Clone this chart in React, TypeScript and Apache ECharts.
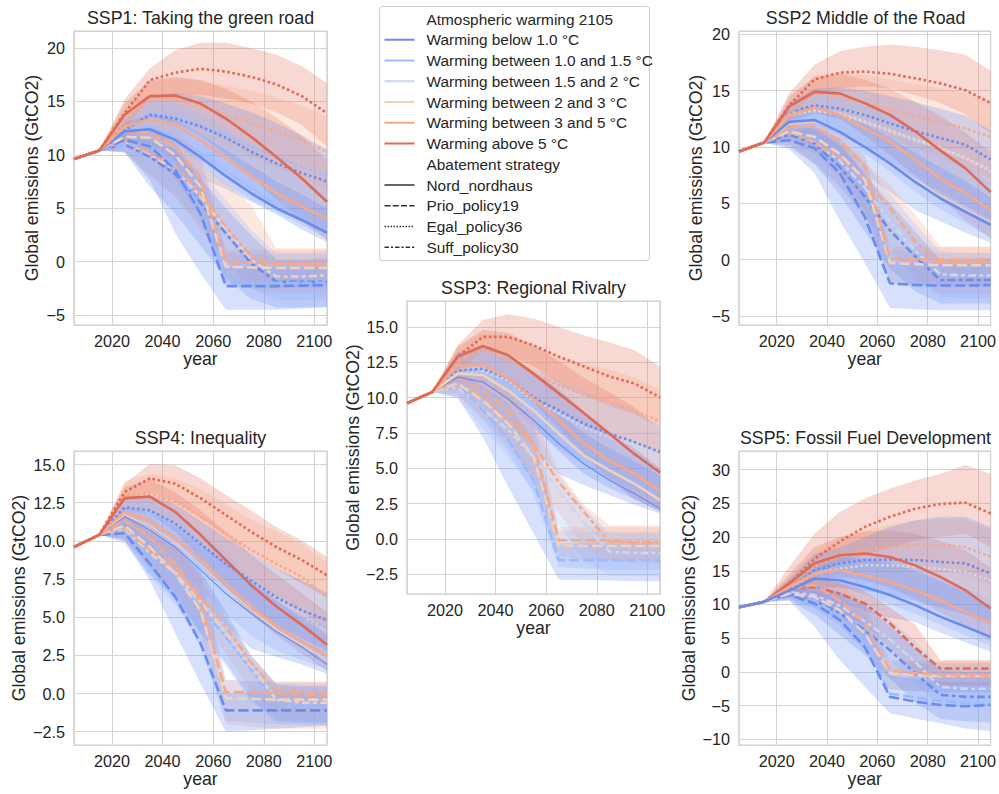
import React, { useEffect, useRef } from 'react';
import * as echarts from 'echarts';

// ---------- data ----------
const YEARS = [2005, 2015, 2025, 2035, 2045, 2055, 2065, 2075, 2085, 2095, 2105];
const HISTORY = [9.6, 10.4];
const X_TICKS = [2020, 2040, 2060, 2080, 2100];

const WARMING_LABELS = [
  'Warming below 1.0 °C',
  'Warming between 1.0 and 1.5 °C',
  'Warming between 1.5 and 2 °C',
  'Warming between 2 and 3 °C',
  'Warming between 3 and 5 °C',
  'Warming above 5 °C',
];
const STRATEGY_LABELS = ['Nord_nordhaus', 'Prio_policy19', 'Egal_policy36', 'Suff_policy30'];
const STRATEGY_CODES = ['N', 'P', 'E', 'S'];
const PANEL_TITLES = [
  'SSP1: Taking the green road',
  'SSP2 Middle of the Road',
  'SSP3: Regional Rivalry',
  'SSP4: Inequality',
  'SSP5: Fossil Fuel Development',
];
const Y_EXTENTS = [[-5.94, 21.6], [-5.8, 20.3], [-3.9, 16.84], [-3.37, 15.89], [-10.84, 32.76]];
const Y_STEPS = [5, 5, 2.5, 2.5, 5];

type Line = [number, string, number[]];
type Band = [number, number[], number[]];

// values for 2025..2105 ; [warming class, strategy, values]
const SSP1_LINES: Line[] = [
  [3, 'S', [11.1, 10.0, 8.6, 6.1, 3.0, 0.15, -1.4, -1.4, -1.3]],
  [0, 'S', [11.0, 9.8, 8.2, 5.5, 2.65, -0.15, -1.9, -1.9, -1.9]],
  [4, 'S', [11.4, 10.2, 8.9, 6.4, 3.3, 0.5, -0.3, -0.3, -0.4]],
  [1, 'P', [11.0, 10.9, 9.0, 5.0, -2.0, -2.0, -2.0, -2.0, -2.0]],
  [0, 'P', [11.4, 10.8, 8.6, 4.5, -2.3, -2.3, -2.3, -2.25, -2.2]],
  [3, 'P', [11.7, 11.6, 10.0, 7.0, -0.5, -0.55, -0.6, -0.6, -0.6]],
  [4, 'P', [12.2, 12.1, 10.8, 7.65, 0.0, -0.1, -0.15, -0.15, -0.15]],
  [1, 'E', [12.5, 13.9, 13.6, 12.8, 11.9, 10.8, 9.8, 8.9, 8.0]],
  [0, 'E', [12.3, 13.75, 13.4, 12.65, 11.6, 10.3, 9.2, 8.3, 7.5]],
  [4, 'E', [13.0, 15.3, 15.2, 14.5, 13.75, 13.0, 12.2, 11.4, 10.3]],
  [5, 'E', [13.9, 17.0, 17.7, 18.06, 17.8, 17.3, 16.6, 15.5, 13.9]],
  [1, 'N', [12.3, 12.6, 11.7, 10.2, 8.5, 6.9, 5.4, 4.2, 3.0]],
  [0, 'N', [12.2, 12.4, 11.4, 9.8, 8.0, 6.4, 5.0, 3.9, 2.7]],
  [4, 'N', [12.65, 13.3, 12.8, 11.4, 9.7, 8.0, 6.4, 5.2, 4.0]],
  [5, 'N', [13.75, 15.5, 15.55, 14.8, 13.4, 11.7, 9.8, 7.8, 5.6]],
];
const SSP1_BANDS: Band[] = [
  [5, [12.5, 15.3, 15.6, 15.6, 15.3, 14.8, 14.0, 12.8, 10.8], [15.2, 18.1, 19.8, 20.5, 20.5, 20.0, 19.4, 18.3, 16.7]],
  [5, [12.5, 13.5, 13.0, 11.8, 10.0, 8.0, 5.8, 3.8, 2.0], [14.8, 17.0, 17.3, 17.0, 16.2, 15.0, 13.5, 11.8, 9.5]],
  [4, [12.0, 13.6, 13.0, 12.0, 10.8, 9.8, 8.8, 7.8, 6.6], [14.0, 16.8, 17.2, 16.9, 16.5, 16.0, 15.4, 14.6, 13.6]],
  [0, [11.5, 12.0, 11.0, 9.5, 8.0, 6.5, 5.0, 3.8, 2.6], [13.2, 15.5, 15.8, 15.5, 14.8, 14.0, 13.0, 11.8, 10.5]],
  [1, [11.8, 11.8, 10.8, 9.0, 7.2, 5.8, 4.6, 3.4, 2.2], [13.6, 14.8, 14.8, 13.8, 12.4, 10.8, 9.2, 7.8, 6.4]],
  [0, [11.3, 11.0, 9.5, 7.8, 6.8, 5.6, 4.4, 3.0, 1.8], [13.0, 13.8, 13.3, 12.0, 10.5, 9.0, 7.5, 6.3, 5.0]],
  [4, [11.2, 10.0, 8.0, 4.5, -2.0, -2.2, -2.3, -2.3, -2.3], [13.0, 13.5, 12.5, 10.0, 1.1, 1.1, 1.1, 1.1, 1.1]],
  [1, [10.9, 10.0, 7.8, 4.0, -2.3, -2.4, -2.5, -2.5, -2.5], [12.4, 12.9, 12.0, 9.6, 0.8, 0.7, 0.7, 0.7, 0.7]],
  [0, [10.3, 7.65, 2.65, -1.1, -4.5, -4.5, -4.5, -4.4, -4.3], [12.2, 12.5, 11.0, 8.0, -0.5, -0.6, -0.6, -0.6, -0.5]],
  [4, [10.3, 8.0, 6.0, 3.0, 0.0, -2.5, -3.0, -3.0, -3.0], [12.5, 12.2, 11.0, 9.0, 7.4, 5.3, 1.25, 1.25, 1.25]],
  [1, [10.3, 8.2, 6.2, 3.4, 0.2, -2.5, -3.6, -3.6, -3.5], [11.9, 11.6, 10.6, 8.4, 5.8, 3.0, 0.8, 0.8, 0.9]],
  [0, [10.2, 7.0, 4.5, 1.5, -1.5, -3.5, -4.3, -4.3, -4.2], [12.0, 11.5, 10.5, 7.8, 5.0, 2.5, 0.2, 0.2, 0.3]],
];

const SSP2_LINES: Line[] = [
  [2, 'S', [11.2, 10.4, 8.8, 6.4, 3.4, 0.8, -1.3, -1.4, -1.4]],
  [0, 'S', [11.1, 10.3, 8.25, 5.6, 2.6, 0.3, -1.8, -1.8, -1.8]],
  [4, 'S', [11.4, 10.3, 9.1, 7.1, 4.6, 1.6, -0.3, -0.3, -0.3]],
  [0, 'P', [10.6, 9.9, 7.7, 3.8, -2.1, -2.25, -2.3, -2.3, -2.25]],
  [3, 'P', [11.4, 10.9, 9.4, 7.1, -0.3, -0.4, -0.5, -0.5, -0.5]],
  [4, 'P', [11.8, 11.8, 10.6, 8.25, 0.1, 0.0, 0.0, 0.0, 0.0]],
  [2, 'E', [12.8, 13.2, 12.9, 12.2, 11.4, 10.6, 9.9, 9.1, 8.0]],
  [3, 'E', [12.9, 13.3, 13.0, 12.3, 11.5, 10.7, 9.9, 9.0, 7.8]],
  [0, 'E', [13.1, 13.7, 13.4, 12.85, 12.1, 11.4, 10.8, 10.2, 8.9]],
  [4, 'E', [13.0, 14.7, 14.5, 13.9, 13.3, 12.7, 12.25, 11.65, 10.9]],
  [5, 'E', [13.7, 16.0, 16.6, 16.7, 16.5, 16.1, 15.65, 15.05, 13.9]],
  [3, 'N', [12.0, 12.2, 11.3, 10.0, 8.7, 7.1, 5.7, 4.5, 3.3]],
  [0, 'N', [12.25, 12.4, 11.35, 10.0, 8.55, 6.9, 5.45, 4.25, 3.1]],
  [4, 'N', [12.8, 13.5, 12.85, 11.65, 10.5, 8.85, 7.2, 5.9, 4.4]],
  [5, 'N', [13.6, 14.9, 14.76, 13.9, 12.85, 11.4, 9.7, 8.1, 6.0]],
];
const SSP2_BANDS: Band[] = [
  [5, [12.6, 14.8, 15.2, 15.4, 15.2, 14.6, 13.9, 12.9, 11.2], [14.8, 17.3, 18.5, 18.9, 19.1, 18.9, 18.6, 18.2, 16.8]],
  [5, [12.4, 13.0, 12.5, 11.0, 9.3, 7.5, 5.5, 3.5, 1.9], [14.5, 16.2, 16.5, 16.0, 15.2, 14.0, 12.8, 11.3, 9.6]],
  [4, [12.0, 13.0, 12.6, 11.6, 10.8, 9.9, 9.0, 8.2, 7.2], [14.0, 16.4, 16.6, 16.4, 16.0, 15.6, 15.2, 14.8, 14.2]],
  [0, [11.8, 12.0, 11.2, 10.0, 8.6, 7.2, 6.0, 4.8, 3.5], [14.0, 15.2, 15.3, 15.0, 14.5, 14.0, 13.4, 12.8, 11.5]],
  [1, [11.9, 12.0, 11.0, 9.4, 7.8, 6.0, 4.5, 3.2, 2.0], [13.7, 15.0, 14.8, 13.8, 12.8, 11.4, 9.8, 8.4, 6.8]],
  [0, [11.2, 10.8, 9.4, 7.6, 6.0, 4.4, 3.4, 2.4, 1.5], [13.0, 13.7, 13.0, 12.0, 10.8, 9.5, 8.2, 7.0, 5.5]],
  [4, [10.8, 10.0, 8.0, 4.5, -2.0, -2.2, -2.3, -2.3, -2.3], [12.6, 12.1, 11.2, 9.1, 1.15, 1.15, 1.15, 1.15, 1.15]],
  [1, [10.6, 9.4, 7.4, 4.3, -2.2, -2.3, -2.4, -2.4, -2.4], [12.2, 12.3, 11.2, 9.4, 0.8, 0.7, 0.6, 0.6, 0.6]],
  [0, [9.8, 7.7, 3.5, -0.3, -4.3, -4.4, -4.5, -4.5, -4.5], [11.4, 11.8, 10.5, 7.5, -0.2, -0.3, -0.4, -0.4, -0.3]],
  [4, [10.2, 8.5, 6.5, 3.8, 1.2, -1.6, -3.0, -3.0, -3.0], [12.3, 11.8, 10.8, 8.6, 6.6, 4.0, 1.15, 1.15, 1.15]],
  [1, [10.4, 8.6, 6.6, 3.8, 0.6, -1.8, -3.3, -3.4, -3.4], [12.0, 12.0, 10.8, 8.6, 5.8, 3.2, 0.7, 0.6, 0.6]],
  [0, [10.0, 8.5, 5.8, 2.5, -0.8, -2.8, -3.9, -3.9, -3.9], [12.0, 11.6, 10.2, 7.6, 5.0, 2.5, 0.0, 0.0, 0.1]],
];

const SSP3_LINES: Line[] = [
  [2, 'S', [10.75, 9.2, 7.7, 5.8, 3.4, 1.1, -0.9, -1.0, -1.0]],
  [4, 'S', [11.0, 10.0, 8.4, 6.75, 4.0, 1.9, -0.2, -0.2, -0.2]],
  [1, 'P', [11.0, 9.1, 7.0, 4.15, -1.5, -1.5, -1.5, -1.5, -1.5]],
  [3, 'P', [11.0, 9.8, 8.15, 5.8, -0.45, -0.5, -0.5, -0.5, -0.5]],
  [4, 'P', [11.45, 10.5, 9.1, 6.75, -0.1, -0.1, -0.1, -0.3, -0.3]],
  [2, 'E', [11.8, 11.9, 11.2, 9.8, 8.9, 7.9, 7.2, 6.6, 5.8]],
  [0, 'E', [11.9, 12.05, 11.35, 10.0, 9.1, 8.15, 7.45, 6.85, 6.15]],
  [4, 'E', [12.5, 13.35, 12.65, 11.7, 10.9, 10.2, 9.7, 9.1, 8.3]],
  [5, 'E', [12.9, 14.3, 14.3, 13.7, 12.9, 12.2, 11.5, 11.0, 10.0]],
  [0, 'N', [11.45, 11.1, 9.9, 8.4, 6.75, 5.3, 4.15, 3.2, 2.15]],
  [3, 'N', [11.7, 11.6, 10.5, 9.1, 7.45, 5.9, 4.85, 3.9, 2.75]],
  [4, 'N', [12.3, 12.3, 11.35, 9.9, 8.4, 6.75, 5.55, 4.6, 3.4]],
  [5, 'N', [12.9, 13.65, 13.0, 11.7, 10.3, 8.9, 7.45, 6.0, 4.7]],
];
const SSP3_BANDS: Band[] = [
  [5, [12.0, 13.3, 13.0, 12.2, 11.0, 10.2, 9.4, 8.8, 7.9], [13.7, 15.5, 15.9, 15.6, 15.0, 14.4, 13.9, 13.35, 12.2]],
  [5, [12.0, 12.3, 11.3, 9.6, 7.8, 6.0, 4.2, 2.8, 1.9], [13.6, 14.8, 14.6, 13.7, 12.6, 11.4, 10.4, 9.3, 7.8]],
  [4, [11.6, 12.0, 11.0, 9.8, 8.9, 8.0, 7.4, 6.8, 6.0], [13.4, 14.6, 14.3, 13.6, 12.9, 12.4, 12.0, 11.4, 10.6]],
  [1, [11.0, 10.6, 9.5, 7.8, 6.4, 5.2, 4.2, 3.5, 2.6], [12.4, 13.3, 12.9, 12.0, 11.2, 10.4, 9.7, 9.0, 8.0]],
  [0, [11.4, 11.0, 9.8, 8.0, 6.2, 4.6, 3.6, 2.8, 2.0], [13.2, 13.6, 12.9, 11.8, 10.6, 9.0, 7.6, 6.4, 5.0]],
  [0, [10.6, 10.0, 8.3, 6.5, 4.6, 3.8, 3.1, 2.4, 1.8], [12.0, 12.0, 11.2, 10.0, 8.8, 7.5, 6.4, 5.5, 4.5]],
  [4, [10.6, 9.0, 7.0, 4.2, -1.2, -1.5, -1.6, -1.6, -1.6], [12.2, 11.8, 10.7, 7.9, 0.85, 0.85, 0.85, 0.85, 0.85]],
  [1, [10.2, 8.4, 6.2, 3.2, -2.0, -2.1, -2.2, -2.2, -2.2], [11.8, 11.2, 10.0, 8.2, 0.6, 0.5, 0.5, 0.5, 0.5]],
  [0, [10.0, 7.2, 3.7, 0.4, -2.9, -2.9, -2.95, -3.0, -3.0], [11.8, 10.8, 9.6, 7.0, -0.3, -0.3, -0.3, -0.3, -0.3]],
  [4, [10.2, 8.6, 6.5, 4.4, 1.8, -0.5, -1.5, -1.8, -1.8], [11.8, 11.4, 10.3, 8.8, 4.8, 2.4, 0.95, 0.95, 0.95]],
  [1, [10.0, 7.8, 5.8, 3.4, 1.0, -1.5, -2.6, -2.6, -2.6], [11.5, 10.8, 9.6, 8.0, 4.5, 2.2, 0.4, 0.4, 0.4]],
];

const SSP4_LINES: Line[] = [
  [1, 'S', [10.6, 8.95, 7.4, 5.7, 3.7, 1.55, -0.65, -0.8, -0.8]],
  [3, 'S', [10.8, 9.2, 7.9, 6.0, 4.0, 1.8, -0.4, -0.6, -0.6]],
  [4, 'S', [10.9, 9.4, 8.2, 6.35, 4.4, 2.0, 0.2, 0.1, 0.0]],
  [0, 'P', [10.5, 8.5, 6.35, 3.3, -1.1, -1.1, -1.1, -1.1, -1.1]],
  [3, 'P', [11.0, 9.6, 7.85, 5.45, -0.3, -0.35, -0.4, -0.4, -0.4]],
  [4, 'P', [11.35, 10.25, 8.5, 6.1, 0.1, 0.1, 0.0, -0.1, -0.1]],
  [1, 'E', [12.0, 11.8, 10.9, 9.5, 8.2, 7.0, 5.9, 5.0, 4.3]],
  [0, 'E', [12.2, 12.0, 11.15, 9.8, 8.5, 7.4, 6.3, 5.45, 4.8]],
  [4, 'E', [13.0, 13.1, 12.55, 11.6, 10.5, 9.4, 8.5, 7.65, 6.3]],
  [5, 'E', [13.2, 14.1, 13.75, 12.8, 11.7, 10.6, 9.6, 8.75, 7.75]],
  [0, 'N', [11.6, 10.7, 9.6, 8.1, 6.55, 5.25, 4.05, 3.05, 1.9]],
  [3, 'N', [11.7, 11.0, 9.9, 8.4, 6.9, 5.5, 4.2, 3.2, 2.2]],
  [4, 'N', [11.9, 11.35, 10.25, 8.75, 7.2, 5.7, 4.4, 3.4, 2.5]],
  [5, 'N', [12.8, 12.9, 11.9, 10.4, 8.75, 7.1, 5.7, 4.5, 3.2]],
];
const SSP4_BANDS: Band[] = [
  [5, [12.6, 13.2, 12.6, 11.5, 10.3, 9.2, 8.2, 7.2, 6.3], [13.75, 15.05, 14.95, 14.1, 13.0, 12.0, 10.9, 10.05, 8.95]],
  [5, [12.0, 11.8, 10.6, 8.8, 6.9, 5.2, 3.8, 2.6, 1.5], [13.5, 14.0, 13.2, 12.0, 10.6, 9.1, 7.8, 6.6, 5.3]],
  [4, [12.1, 11.8, 11.0, 9.8, 8.6, 7.4, 6.4, 5.4, 4.2], [13.9, 14.4, 14.1, 13.4, 12.4, 11.4, 10.6, 9.8, 8.6]],
  [0, [11.5, 10.8, 9.8, 8.2, 6.8, 5.5, 4.5, 3.6, 2.8], [12.8, 13.0, 12.4, 11.3, 10.2, 9.2, 8.2, 7.4, 6.6]],
  [1, [11.0, 10.0, 8.6, 6.8, 5.2, 3.8, 2.8, 2.2, 1.6], [12.8, 12.7, 11.9, 10.7, 9.2, 7.6, 6.1, 4.8, 3.6]],
  [0, [10.9, 9.6, 8.2, 6.3, 4.5, 2.95, 2.4, 1.9, 1.3], [12.2, 11.8, 11.0, 9.8, 8.6, 7.3, 6.1, 5.0, 3.9]],
  [4, [10.4, 8.8, 6.6, 3.8, -2.0, -2.2, -2.3, -2.3, -2.3], [12.2, 11.6, 10.2, 7.5, 0.9, 0.8, 0.8, 0.8, 0.8]],
  [1, [10.2, 8.2, 6.0, 3.0, -1.8, -1.9, -2.0, -2.0, -2.0], [11.8, 11.0, 9.7, 7.9, 0.9, 0.8, 0.7, 0.7, 0.7]],
  [0, [10.05, 7.4, 3.95, 0.65, -2.5, -2.4, -2.3, -2.2, -2.1], [11.3, 9.9, 8.0, 5.2, 0.0, 0.0, 0.0, 0.0, 0.0]],
  [4, [10.0, 8.2, 6.8, 4.8, 2.6, 0.2, -1.5, -1.6, -1.6], [11.8, 10.8, 9.6, 7.6, 5.0, 2.5, 0.7, 0.7, 0.7]],
  [0, [10.0, 7.8, 6.2, 4.0, 2.0, -0.4, -1.8, -1.9, -1.9], [11.6, 10.6, 9.6, 8.0, 5.4, 2.5, 0.6, 0.5, 0.5]],
  [1, [9.8, 7.6, 5.8, 3.8, 1.8, -0.5, -2.0, -2.1, -2.1], [11.4, 10.2, 8.9, 7.2, 5.0, 2.2, 0.6, 0.4, 0.4]],
];

const SSP5_LINES: Line[] = [
  [2, 'S', [11.8, 11.4, 9.8, 7.5, 4.8, 1.5, -2.2, -2.5, -2.5]],
  [0, 'S', [11.6, 10.6, 8.7, 6.2, 3.2, -0.2, -3.4, -3.7, -3.7]],
  [5, 'S', [12.4, 12.6, 11.6, 10.15, 7.2, 3.6, 0.5, 0.5, 0.5]],
  [1, 'P', [11.5, 10.6, 8.3, 4.6, -3.2, -3.8, -4.3, -4.6, -4.7]],
  [0, 'P', [11.4, 10.15, 7.7, 3.7, -3.7, -4.4, -4.9, -5.1, -4.9]],
  [3, 'P', [11.6, 11.1, 9.15, 5.7, -0.2, -0.5, -0.6, -0.6, -0.6]],
  [4, 'P', [12.4, 12.9, 10.6, 7.2, 0.25, -0.2, -0.4, -0.5, -0.5]],
  [2, 'E', [12.4, 14.6, 15.3, 15.8, 15.8, 15.6, 15.3, 14.8, 13.6]],
  [0, 'E', [12.6, 15.1, 16.1, 16.6, 16.65, 16.6, 16.3, 16.1, 14.6]],
  [4, 'E', [12.9, 15.6, 17.1, 18.05, 18.5, 18.9, 18.9, 18.5, 17.1]],
  [5, 'E', [13.1, 16.8, 19.3, 21.5, 23.0, 24.2, 24.9, 25.1, 23.5]],
  [5, 'N', [13.1, 16.1, 17.3, 17.55, 17.05, 15.8, 14.1, 12.1, 9.4]],
  [4, 'N', [12.6, 14.6, 15.1, 14.3, 13.35, 12.1, 10.6, 8.9, 7.2]],
  [0, 'N', [12.1, 13.85, 13.6, 12.6, 11.4, 9.9, 8.2, 6.7, 5.2]],
];
const SSP5_BANDS: Band[] = [
  [5, [12.0, 14.6, 16.0, 17.3, 18.5, 19.5, 20.0, 20.5, 18.5], [15.6, 20.5, 23.7, 25.7, 27.2, 28.4, 29.4, 30.7, 29.4]],
  [5, [11.8, 13.5, 14.0, 13.6, 12.5, 10.8, 8.8, 6.8, 4.5], [14.5, 18.5, 20.0, 20.8, 21.0, 20.5, 19.5, 18.0, 15.5]],
  [4, [11.9, 13.6, 14.6, 15.0, 15.2, 15.3, 15.0, 14.4, 13.0], [13.9, 17.6, 19.6, 21.0, 21.8, 22.4, 22.7, 22.6, 21.2]],
  [0, [11.5, 12.5, 12.5, 12.0, 11.5, 10.5, 9.5, 8.5, 7.0], [13.8, 17.5, 18.5, 20.0, 21.5, 22.5, 23.0, 23.0, 21.5]],
  [1, [11.6, 12.6, 12.6, 11.4, 10.0, 8.6, 7.0, 5.4, 3.8], [13.6, 16.6, 17.6, 17.2, 16.7, 15.6, 14.2, 12.4, 10.6]],
  [0, [11.0, 11.5, 10.5, 9.0, 8.0, 7.4, 5.8, 4.4, 3.0], [13.2, 16.0, 17.0, 16.8, 16.2, 15.0, 13.5, 11.8, 9.8]],
  [4, [11.2, 10.5, 8.0, 4.0, -2.5, -2.8, -3.0, -3.0, -3.0], [13.6, 14.5, 13.0, 10.0, 1.75, 1.6, 1.5, 1.5, 1.5]],
  [1, [10.8, 9.4, 6.9, 3.0, -2.6, -2.9, -3.0, -3.0, -3.0], [12.4, 12.8, 11.4, 8.4, 1.5, 1.3, 1.3, 1.3, 1.3]],
  [0, [10.6, 6.7, 1.75, -2.2, -6.15, -6.9, -7.6, -8.4, -8.8], [12.3, 12.0, 10.5, 7.5, -0.5, -1.0, -1.5, -1.5, -1.5]],
  [5, [11.2, 10.5, 9.0, 7.0, 3.5, 0.0, -2.0, -2.0, -2.0], [13.5, 14.0, 13.2, 12.0, 9.5, 7.0, 1.75, 1.75, 1.75]],
  [1, [10.9, 9.6, 7.6, 4.8, 1.8, -1.8, -4.8, -5.0, -5.0], [12.7, 13.2, 12.0, 10.2, 7.8, 4.6, 0.6, 0.2, 0.2]],
  [0, [10.6, 8.5, 5.5, 2.5, -1.0, -4.5, -7.0, -7.3, -7.5], [12.6, 12.8, 11.8, 9.8, 6.8, 3.5, 0.2, 0.0, 0.0]],
];

const PANEL_LINES = [SSP1_LINES, SSP2_LINES, SSP3_LINES, SSP4_LINES, SSP5_LINES];
const PANEL_BANDS = [SSP1_BANDS, SSP2_BANDS, SSP3_BANDS, SSP4_BANDS, SSP5_BANDS];
// lines drawn thinner: [panel, warming class, strategy]
const THIN_LINES: [number, number, string][] = [[0, 1, 'N'], [1, 3, 'N'], [2, 0, 'N'], [3, 0, 'N'], [3, 3, 'N']];

// ---------- style ----------
const COLORS = ['#6a8cf0', '#9abbff', '#c9d7f0', '#edd1c2', '#f7a889', '#e26952'];
const TEXT = '#262626';
const FONT = "'Liberation Sans', Arial, Helvetica, sans-serif";
const GRID_LINE = '#d4d4d4';
const BAND_OPACITY = 0.26;
const LW = 2.6;
const DASH: Record<string, any> = {
  N: 'solid',
  P: [4 * LW, 1.5 * LW],
  E: [1 * LW, 1 * LW],
  S: [3 * LW, 1.25 * LW, 1.5 * LW, 1.25 * LW],
};
const LEGEND_DASH: Record<string, any> = {
  N: null,
  P: [6, 2.25],
  E: [1.5, 1.5],
  S: [4.5, 1.9, 2.25, 1.9],
};
const TICK_SIZE = 16.2;
const NAME_SIZE = 17.7;
const TITLE_SIZE = 17.8;
const LEGEND_SIZE = 15.4;

const LAYOUT = [
  { left: 74, top: 31, width: 253, height: 294, nameGap: 33, titleY: 18 },
  { left: 739, top: 31, width: 253, height: 294, nameGap: 34, titleY: 18 },
  { left: 407, top: 301, width: 253, height: 293, nameGap: 45, titleY: 288 },
  { left: 74, top: 451, width: 253, height: 294, nameGap: 46, titleY: 438 },
  { left: 739, top: 451, width: 253, height: 294, nameGap: 41, titleY: 438 },
];

function fullSeries(vals: number[]) {
  return YEARS.map((y, k) => [y, k < 2 ? HISTORY[k] : vals[k - 2]]);
}

function buildOption() {
  const grid = LAYOUT.map((g) => ({
    left: g.left, top: g.top, width: g.width, height: g.height,
    show: true, borderColor: '#cccccc', borderWidth: 1.25, backgroundColor: 'transparent',
  }));

  const xAxis = LAYOUT.map((g, i) => ({
    type: 'value', gridIndex: i, min: 2005, max: 2105, minInterval: 20, maxInterval: 20,
    name: 'year', nameLocation: 'middle', nameGap: 25,
    nameTextStyle: { color: TEXT, fontSize: NAME_SIZE, fontFamily: FONT },
    axisLine: { show: false }, axisTick: { show: false },
    axisLabel: {
      color: TEXT, fontSize: TICK_SIZE, fontFamily: FONT, margin: 8,
      formatter: (v: number) => (X_TICKS.indexOf(Math.round(v)) >= 0 && Math.abs(v - Math.round(v)) < 1e-6 ? String(Math.round(v)) : ''),
    },
    splitLine: { show: true, lineStyle: { color: GRID_LINE, width: 1 } },
  }));

  const yAxis = LAYOUT.map((g, i) => {
    const step = Y_STEPS[i];
    return {
      type: 'value', gridIndex: i, min: Y_EXTENTS[i][0], max: Y_EXTENTS[i][1],
      minInterval: step, maxInterval: step,
      name: 'Global emissions (GtCO2)', nameLocation: 'middle', nameRotate: 90, nameGap: g.nameGap,
      nameTextStyle: { color: TEXT, fontSize: NAME_SIZE, fontFamily: FONT },
      axisLine: { show: false }, axisTick: { show: false },
      axisLabel: {
        color: TEXT, fontSize: TICK_SIZE, fontFamily: FONT, margin: 9,
        formatter: (v: number) => {
          const k = v / step;
          if (Math.abs(k - Math.round(k)) > 1e-6) return '';
          const s = step < 5 ? (Math.round(k) * step).toFixed(1) : String(Math.round(k) * step);
          return s.replace('-', '\u2212');
        },
      },
      splitLine: { show: true, lineStyle: { color: GRID_LINE, width: 1 } },
    };
  });

  const series: any[] = [];
  PANEL_BANDS.forEach((bands, i) => {
    bands.forEach(([c, lo, hi]) => {
      const color = COLORS[c];
      series.push({
        type: 'custom', xAxisIndex: i, yAxisIndex: i, silent: true, z: 1,
        data: YEARS.map((y, k) => [y, k < 2 ? HISTORY[k] : lo[k - 2], k < 2 ? HISTORY[k] : hi[k - 2]]),
        encode: { x: 0, y: [1, 2] },
        renderItem: (params: any, api: any) => {
          if (params.dataIndex !== 0) return null;
          const top: number[][] = [];
          const bot: number[][] = [];
          for (let k = 0; k < YEARS.length; k++) {
            top.push(api.coord([api.value(0, k), api.value(2, k)]));
            bot.push(api.coord([api.value(0, k), api.value(1, k)]));
          }
          return {
            type: 'polygon',
            shape: { points: top.concat(bot.reverse()) },
            style: { fill: color, opacity: BAND_OPACITY, stroke: 'none' },
          };
        },
      });
    });
  });

  PANEL_LINES.forEach((lines, i) => {
    lines.forEach(([c, s, vals]) => {
      const thin = THIN_LINES.some(([p, cc, ss]) => p === i && cc === c && ss === s);
      series.push({
        type: 'line', xAxisIndex: i, yAxisIndex: i, silent: true, z: 3,
        data: fullSeries(vals), showSymbol: false, symbol: 'none',
        lineStyle: { color: COLORS[c], width: thin ? 1.2 : LW, type: DASH[s], cap: 'butt' },
      });
    });
  });

  // titles
  const graphics: any[] = LAYOUT.map((g, i) => ({
    type: 'text', x: g.left + g.width / 2, y: g.titleY, z: 10,
    style: {
      text: PANEL_TITLES[i], fill: TEXT, fontSize: TITLE_SIZE, fontFamily: FONT,
      align: 'center', verticalAlign: 'middle', textAlign: 'center', textVerticalAlign: 'middle',
    },
  }));

  // legend
  const LX = 379.5, LY = 6.5, LWID = 270, LHEI = 254;
  graphics.push({
    type: 'rect', z: 10,
    shape: { x: LX, y: LY, width: LWID, height: LHEI, r: 3 },
    style: { fill: 'rgba(255,255,255,0.85)', stroke: '#cccccc', lineWidth: 1 },
  });
  const rows: { text: string; color?: string; dash?: any; width?: number }[] = [];
  rows.push({ text: 'Atmospheric warming 2105' });
  WARMING_LABELS.forEach((t, k) => rows.push({ text: t, color: COLORS[k], dash: null, width: 2 }));
  rows.push({ text: 'Abatement strategy' });
  STRATEGY_LABELS.forEach((t, k) => rows.push({ text: t, color: '#333333', dash: LEGEND_DASH[STRATEGY_CODES[k]], width: 1.5 }));
  rows.forEach((r, k) => {
    const cy = 19 + k * 20.75;
    if (r.color) {
      graphics.push({
        type: 'line', z: 11,
        shape: { x1: 384.5, y1: cy, x2: 414.5, y2: cy },
        style: { stroke: r.color, lineWidth: r.width, lineDash: r.dash || null },
      });
    }
    graphics.push({
      type: 'text', x: 426.5, y: cy, z: 11,
      style: {
        text: r.text, fill: TEXT, fontSize: LEGEND_SIZE, fontFamily: FONT,
        align: 'left', verticalAlign: 'middle', textAlign: 'left', textVerticalAlign: 'middle',
      },
    });
  });

  return {
    animation: false,
    backgroundColor: '#ffffff',
    grid, xAxis, yAxis, series,
    graphic: { elements: graphics },
  };
}

export default function App() {
  const ref = useRef<HTMLDivElement>(null);
  useEffect(() => {
    if (!ref.current) return;
    const chart = echarts.init(ref.current, undefined, { renderer: 'svg' });
    chart.setOption(buildOption() as any);
    return () => chart.dispose();
  }, []);
  return (
    <div
      ref={ref}
      style={{ position: 'fixed', left: 0, top: 0, width: 999, height: 794, background: '#ffffff' }}
    />
  );
}
